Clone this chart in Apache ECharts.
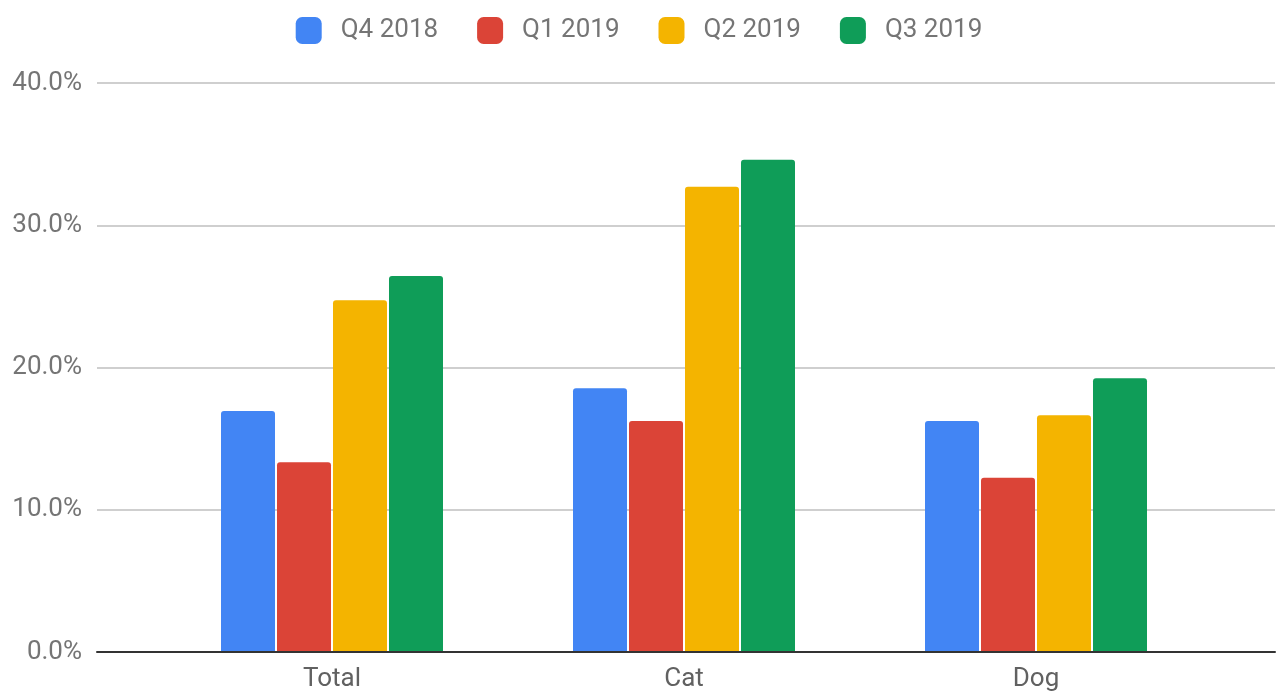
<!DOCTYPE html>
<html>
<head>
<meta charset="utf-8">
<title>Quarterly share by segment</title>
<script src="https://cdn.jsdelivr.net/npm/echarts@6/dist/echarts.min.js"></script>
<style>
  html, body { margin: 0; padding: 0; background: #fff; }
  #chart { width: 1278px; height: 692px; }
</style>
</head>
<body>
<div id="chart"></div>
<script>
// categories and series values (percent)
var categories = ['Total', 'Cat', 'Dog'];
var seriesNames = ['Q4 2018', 'Q1 2019', 'Q2 2019', 'Q3 2019'];
var q4_2018 = [16.9, 18.5, 16.2];
var q1_2019 = [13.3, 16.2, 12.2];
var q2_2019 = [24.7, 32.7, 16.6];
var q3_2019 = [26.4, 34.6, 19.2];
var yTicks = { min: 0, max: 40, interval: 10 };

var colors = ['#4285F4', '#DB4437', '#F4B400', '#0F9D58'];
var values = [q4_2018, q1_2019, q2_2019, q3_2019];
var font = 'Roboto, "Noto Sans", sans-serif';

var chart = echarts.init(document.getElementById('chart'));

var series = seriesNames.map(function (name, i) {
  return {
    name: name,
    type: 'bar',
    xAxisIndex: 1,
    yAxisIndex: 1,
    data: values[i],
    barWidth: 54,
    barGap: '3.7%',
    itemStyle: { color: colors[i], borderRadius: [3, 3, 0, 0] }
  };
});

chart.setOption({
  animation: false,
  color: colors,
  legend: {
    top: 12,
    left: 'center',
    itemWidth: 26,
    itemHeight: 27,
    itemGap: 39,
    icon: 'roundRect',
    textStyle: { fontFamily: font, fontSize: 26, color: '#757575', padding: [0, 0, 0, 14] },
    data: seriesNames
  },
  grid: [
    { left: 97, right: 3, top: 83, bottom: 40 },
    { left: 156, right: 66, top: 83, bottom: 40 }
  ],
  xAxis: [
    {
      type: 'value', gridIndex: 0, min: 0, max: 1,
      axisLine: { show: true, lineStyle: { color: '#333', width: 2 } },
      axisTick: { show: false }, axisLabel: { show: false }, splitLine: { show: false }
    },
    {
      type: 'category', gridIndex: 1, data: categories,
      axisLine: { show: false }, axisTick: { show: false },
      axisLabel: { fontFamily: font, fontSize: 26, color: '#616161', margin: 15 }
    }
  ],
  yAxis: [
    {
      type: 'value', gridIndex: 0, min: yTicks.min, max: yTicks.max, interval: yTicks.interval,
      axisLine: { show: false }, axisTick: { show: false },
      axisLabel: {
        fontFamily: font, fontSize: 26, color: '#757575', margin: 15,
        formatter: function (v) { return v.toFixed(1) + '%'; }
      },
      splitLine: { lineStyle: { color: '#cfcfcf', width: 2 } }
    },
    {
      type: 'value', gridIndex: 1, min: yTicks.min, max: yTicks.max, interval: yTicks.interval,
      show: false
    }
  ],
  series: series
});
</script>
</body>
</html>
